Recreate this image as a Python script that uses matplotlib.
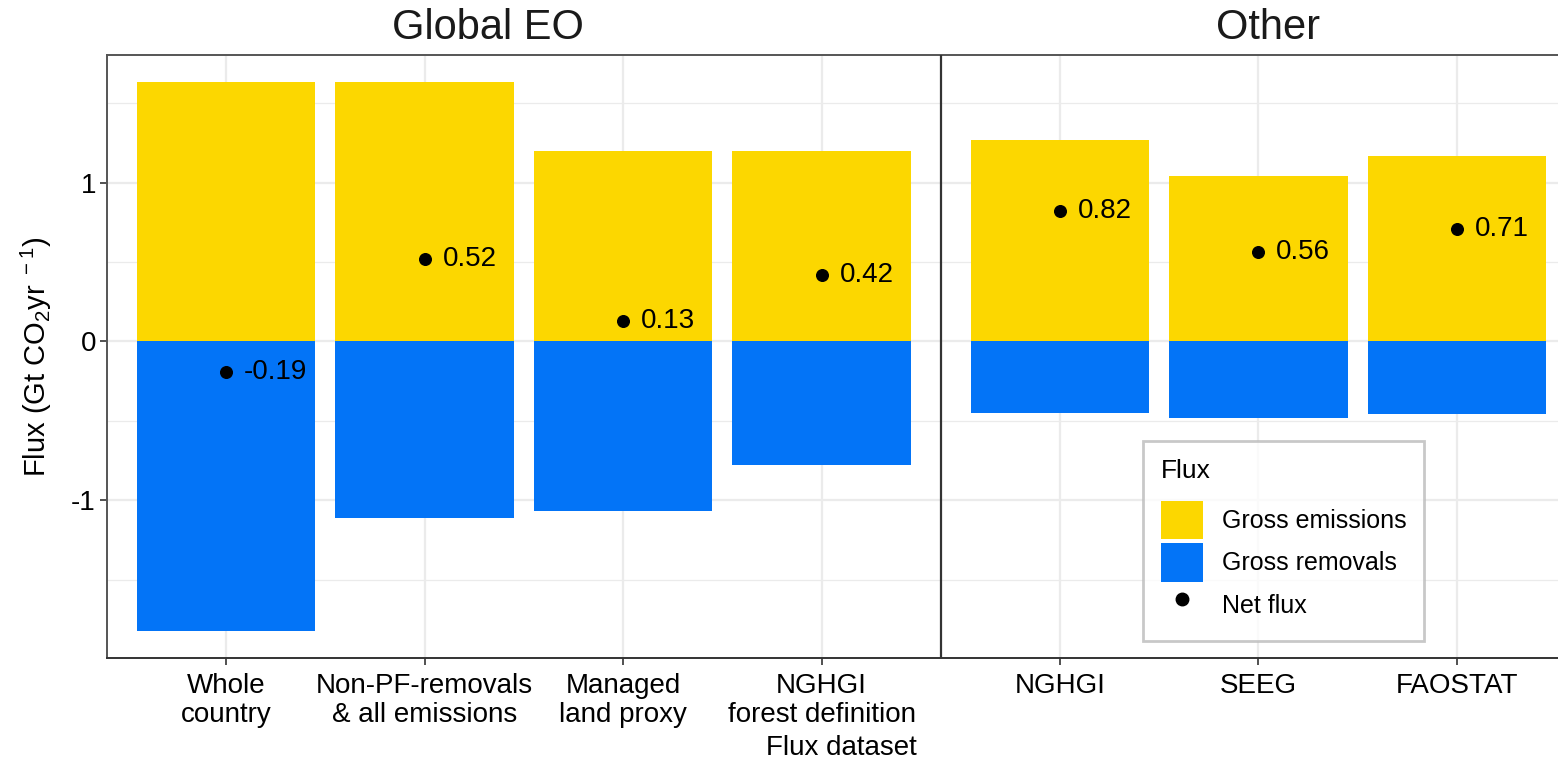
import numpy as np
import matplotlib.pyplot as plt
from matplotlib.patches import Patch
from matplotlib.lines import Line2D

plt.rcParams['font.family'] = ['Liberation Sans', 'DejaVu Sans']
plt.rcParams['mathtext.default'] = 'regular'
plt.rcParams['axes.unicode_minus'] = False

# data
categories = ['Whole\ncountry', 'Non-PF-removals\n& all emissions', 'Managed\nland proxy',
              'NGHGI\nforest definition', 'NGHGI', 'SEEG', 'FAOSTAT']
emissions = [1.63, 1.63, 1.20, 1.20, 1.27, 1.04, 1.17]
removals = [-1.82, -1.11, -1.07, -0.78, -0.45, -0.48, -0.46]
net_flux = [-0.19, 0.52, 0.13, 0.42, 0.82, 0.56, 0.71]
groups = ['Global EO', 'Other']
group_size = [4, 3]

yellow = '#FCD700'
blue = '#0374F7'

# x positions, with an extra gap between the two groups
xpos = []
x = 1.0
for g, n in enumerate(group_size):
    for i in range(n):
        xpos.append(x)
        x += 1
    x += 0.2
xpos = np.array(xpos)
sep = (xpos[3] + xpos[4]) / 2

fig = plt.figure(figsize=(15.58, 7.64), dpi=100)
# panel runs a little past the right edge, like the original crop
ax = fig.add_axes([107/1558, 106/764, 1469/1558, 603/764])

ax.bar(xpos, emissions, width=0.9, color=yellow, zorder=2)
ax.bar(xpos, removals, width=0.9, color=blue, zorder=2)
ax.scatter(xpos, net_flux, s=70, color='black', zorder=3)
for xi, v in zip(xpos, net_flux):
    ax.text(xi + 0.09, v, '%.2f' % v, fontsize=20, va='center', ha='left', zorder=4)

ax.axvline(sep, color='#333333', lw=1.6, zorder=3)

# ggplot style limits (5% expansion)
lo, hi = min(removals), max(emissions)
pad = (hi - lo) * 0.05
ax.set_ylim(lo - pad, hi + pad)
ax.set_xlim(xpos[0] - 0.6, xpos[-1] + 0.6)

ax.set_yticks([-1, 0, 1])
ax.set_yticks([-1.5, -0.5, 0.5, 1.5], minor=True)
ax.set_xticks(xpos)
ax.set_xticklabels(categories, fontsize=20, linespacing=1.12)
ax.tick_params(axis='y', labelsize=20, length=5, width=1.2, color='#333333', pad=3)
ax.tick_params(axis='x', length=5, width=1.2, color='#333333', pad=6)
ax.tick_params(which='minor', length=0)
ax.grid(which='major', color='#EBEBEB', lw=1.6, zorder=0)
ax.grid(which='minor', axis='y', color='#EBEBEB', lw=0.9, zorder=0)
ax.set_axisbelow(True)
for s in ax.spines.values():
    s.set_color('#555555')
    s.set_linewidth(1.4)
ax.spines['bottom'].set_color('#333333')

ax.set_xlabel('Flux dataset', fontsize=20)
ax.xaxis.set_label_coords(0.5, -0.128)
ax.set_ylabel(r'Flux (Gt CO$_2$yr$^{\ -1}$)', fontsize=21, labelpad=12)

# group titles above the panel
title_x = [2.32, 6.25]
for name, tx in zip(groups, title_x):
    ax.text(tx, 1.012, name, transform=ax.get_xaxis_transform(), fontsize=30,
            ha='center', va='bottom', color='#1a1a1a')

handles = [Patch(facecolor=yellow, edgecolor='none', label='Gross emissions'),
           Patch(facecolor=blue, edgecolor='none', label='Gross removals'),
           Line2D([], [], marker='o', color='black', ls='none', markersize=9, label='Net flux')]
leg = ax.legend(handles=handles, title='Flux', loc='upper left',
                bbox_to_anchor=(1143/1558, 1 - 441/764), bbox_transform=fig.transFigure,
                borderaxespad=0, fontsize=18, title_fontsize=19, frameon=True, fancybox=False,
                handlelength=1.7, handleheight=2.0, handletextpad=0.75, labelspacing=0.15,
                borderpad=0.7, alignment='left')
leg._legend_box.sep = 13  # more room under the legend title
leg.get_frame().set_edgecolor('#BBBBBB')
leg.get_frame().set_linewidth(2)

fig.savefig('out.png', dpi=100)
